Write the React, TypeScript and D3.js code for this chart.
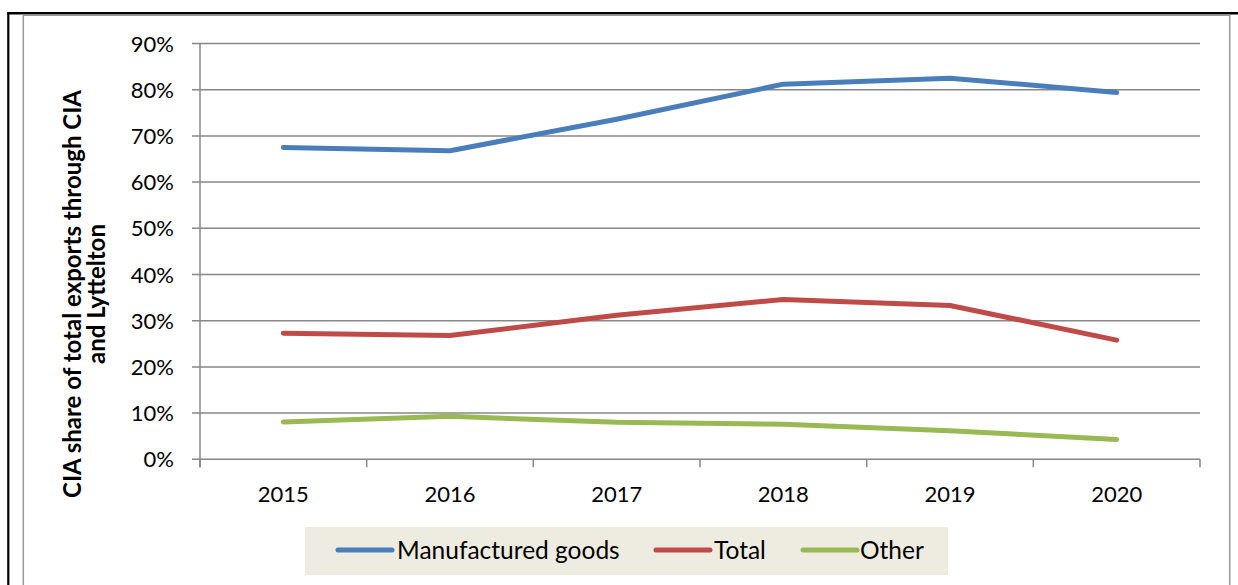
import React from "react";
import * as d3 from "d3";

const years = ["2015", "2016", "2017", "2018", "2019", "2020"];
const manufactured = [67.5, 66.8, 73.6, 81.2, 82.5, 79.4];
const total = [27.3, 26.8, 31.2, 34.6, 33.3, 25.8];
const other = [8.1, 9.3, 8.0, 7.6, 6.2, 4.3];
const yTicks = [0, 10, 20, 30, 40, 50, 60, 70, 80, 90];

const seriesList = [
  { name: "Manufactured goods", values: manufactured, color: "#4A7EBB" },
  { name: "Total", values: total, color: "#BE4B48" },
  { name: "Other", values: other, color: "#98B954" },
];

const W = 1238;
const H = 585;
const left = 200;
const right = 1200;
const top = 43.5;
const bottom = 459.3;

export default function App() {
  const x = d3.scaleBand<string>().domain(years).range([left, right]);
  const y = d3.scaleLinear().domain([0, 90]).range([bottom, top]);
  const line = d3
    .line<number>()
    .x((_, i) => (x(years[i]) as number) + x.bandwidth() / 2)
    .y((d) => y(d));
  const font = "Lato, 'Open Sans', sans-serif";
  const gridColor = "#878787";
  const boundaries = years.map((yr) => x(yr) as number).concat([right]);

  const legendItems = [
    { lx: 338, tx: 397 },
    { lx: 656, tx: 714 },
    { lx: 803, tx: 860 },
  ];

  return (
    <svg
      width={W}
      height={H}
      style={{ position: "absolute", left: 0, top: 0, background: "#fff" }}
    >
      {/* frame */}
      <line x1={8.3} y1={13} x2={8.3} y2={H} stroke="#000" strokeWidth={2.2} />
      <line x1={7.2} y1={13.3} x2={W} y2={13.3} stroke="#000" strokeWidth={2.6} />
      <line x1={23.3} y1={15.5} x2={23.3} y2={H} stroke="#9a9a9a" strokeWidth={1.5} />
      <line x1={23} y1={15.3} x2={1230} y2={15.3} stroke="#9a9a9a" strokeWidth={1.5} />
      <line x1={1229.7} y1={15} x2={1229.7} y2={H} stroke="#9a9a9a" strokeWidth={1.5} />

      {/* grid */}
      {yTicks.map((t) => (
        <line
          key={t}
          x1={192}
          x2={right}
          y1={y(t)}
          y2={y(t)}
          stroke={gridColor}
          strokeWidth={1.5}
        />
      ))}
      <line x1={left} x2={left} y1={top} y2={bottom + 8} stroke={gridColor} strokeWidth={1.5} />
      {boundaries.map((b, i) => (
        <line
          key={i}
          x1={b}
          x2={b}
          y1={bottom}
          y2={bottom + 8}
          stroke={gridColor}
          strokeWidth={1.5}
        />
      ))}

      {/* y labels */}
      {yTicks.map((t) => (
        <text
          key={t}
          x={174}
          y={y(t) + 8}
          textAnchor="end"
          fontFamily={font}
          fontSize={22}
          fill="#000"
        >
          {t}%
        </text>
      ))}

      {/* x labels */}
      {years.map((yr) => (
        <text
          key={yr}
          x={(x(yr) as number) + x.bandwidth() / 2}
          y={502}
          textAnchor="middle"
          fontFamily={font}
          fontSize={22}
          fill="#000"
        >
          {yr}
        </text>
      ))}

      {/* y title */}
      <g transform="translate(0,294) rotate(-90)">
        <text
          x={0}
          y={81}
          textAnchor="middle"
          fontFamily={font}
          fontSize={24}
          fontWeight="bold"
          fill="#000"
        >
          CIA share of total exports through CIA
        </text>
        <text
          x={0}
          y={105}
          textAnchor="middle"
          fontFamily={font}
          fontSize={24}
          fontWeight="bold"
          fill="#000"
        >
          and Lyttelton
        </text>
      </g>

      {/* series */}
      {seriesList.map((s) => (
        <path
          key={s.name}
          d={line(s.values) || ""}
          fill="none"
          stroke={s.color}
          strokeWidth={5}
          strokeLinecap="round"
          strokeLinejoin="round"
        />
      ))}

      {/* legend */}
      <rect x={305} y={527} width={643} height={48} fill="#EEECE1" />
      {seriesList.map((s, i) => (
        <g key={s.name}>
          <line
            x1={legendItems[i].lx}
            x2={legendItems[i].lx + 54}
            y1={550}
            y2={550}
            stroke={s.color}
            strokeWidth={5}
            strokeLinecap="round"
          />
          <text
            x={legendItems[i].tx}
            y={558.5}
            fontFamily={font}
            fontSize={24.5}
            fill="#000"
          >
            {s.name}
          </text>
        </g>
      ))}
    </svg>
  );
}
